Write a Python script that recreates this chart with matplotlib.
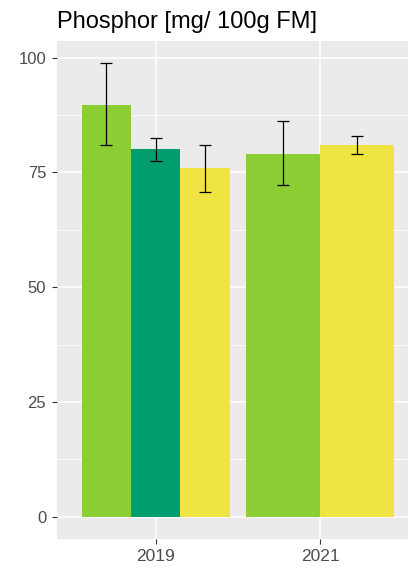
import matplotlib
matplotlib.use("Agg")
import matplotlib.pyplot as plt
import numpy as np

plt.rcParams['font.family'] = ['Liberation Sans', 'DejaVu Sans']

years = ["2019", "2021"]
# bars per year: (value, lower, upper, colour)
groups = {
    "2019": {"values": [89.6, 80.0, 75.9],
             "lower": [80.9, 77.5, 70.7],
             "upper": [98.8, 82.5, 80.9],
             "colors": ["#8BCE34", "#009E6F", "#F0E442"]},
    "2021": {"values": [79.1, 80.9],
             "lower": [72.2, 79.1],
             "upper": [86.2, 82.9],
             "colors": ["#8BCE34", "#F0E442"]},
}
y_ticks = [0, 25, 50, 75, 100]
title = "Phosphor [mg/ 100g FM]"

fig = plt.figure(figsize=(4.08, 5.70), dpi=100)
ax = fig.add_axes([57/408, 1-539.3/570, (419-57)/408, (539.3-40.7)/570])
ax.set_facecolor("#EBEBEB")

group_w = 0.9
for i, yr in enumerate(years):
    g = groups[yr]
    n = len(g["values"])
    w = group_w / n
    xs = (i + 1) - group_w/2 + w/2 + w*np.arange(n)
    ax.bar(xs, g["values"], width=w, color=g["colors"], zorder=2, linewidth=0)
    v = np.array(g["values"])
    lo = v - np.array(g["lower"])
    hi = np.array(g["upper"]) - v
    ax.errorbar(xs, v, yerr=[lo, hi], fmt="none", ecolor="black",
                elinewidth=0.9, capsize=4, capthick=0.9, zorder=3)

ax.set_xlim(0.4, 2.6)
ax.set_ylim(-4.94, 103.7)
ax.set_xticks([1, 2])
ax.set_xticklabels(years)
ax.set_yticks(y_ticks)
ax.set_yticks([12.5, 37.5, 62.5, 87.5], minor=True)
ax.grid(True, which="major", color="white", linewidth=1.1, zorder=0)
ax.grid(True, which="minor", axis="y", color="white", linewidth=0.55, zorder=0)
ax.set_axisbelow(True)
for s in ax.spines.values():
    s.set_visible(False)
ax.tick_params(axis="both", which="major", length=3.8, width=0.8, color="#333333",
               labelcolor="#4D4D4D")
ax.tick_params(axis="y", which="major", labelsize=12, pad=4)
ax.tick_params(axis="x", which="major", labelsize=12.5, pad=3)
ax.tick_params(axis="both", which="minor", length=0)

fig.text(57/408, 1-28.3/570, title, fontsize=17, ha="left", va="baseline", color="black")

fig.savefig("out.png", dpi=100)
